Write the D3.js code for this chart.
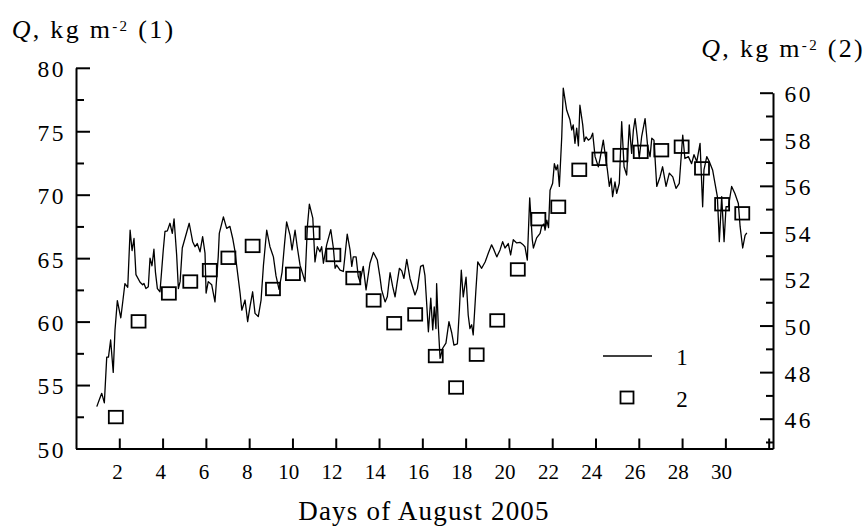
<!DOCTYPE html>
<html>
<head>
<meta charset="utf-8">
<script src="https://cdn.jsdelivr.net/npm/d3@7"></script>
<style>
  html, body { margin: 0; padding: 0; background: #fff; }
  svg { display: block; font-family: "Liberation Serif", "Times New Roman", serif; }
</style>
</head>
<body>
<svg id="chart" width="868" height="526"></svg>
<script>
// Series 1: continuous record (left axis), day of August vs Q
const lineDays = [
  0.96, 1.11, 1.19, 1.31, 1.42, 1.50, 1.60, 1.72, 1.80, 1.91, 2.07, 2.17, 2.26, 2.39, 2.50, 2.59, 2.68, 2.77,
  2.96, 3.08, 3.14, 3.23, 3.34, 3.42, 3.51, 3.60, 3.67, 3.76, 3.88, 4.03, 4.11, 4.22, 4.34, 4.45, 4.53, 4.65,
  4.73, 4.81, 4.91, 5.23, 5.39, 5.50, 5.60, 5.73, 5.85, 5.96, 6.01, 6.11, 6.27, 6.42, 6.57, 6.62, 6.81, 6.96,
  7.11, 7.24, 7.35, 7.39, 7.58, 7.66, 7.81, 7.93, 8.04, 8.16, 8.27, 8.42, 8.55, 8.66, 8.81, 8.96, 9.12, 9.24,
  9.38, 9.52, 9.63, 9.73, 9.89, 9.98, 10.12, 10.22, 10.35, 10.58, 10.69, 10.78, 10.94, 11.04, 11.15, 11.27,
  11.35, 11.43, 11.58, 11.77, 11.89, 11.97, 12.04, 12.20, 12.35, 12.53, 12.66, 12.74, 12.81, 12.94, 13.04,
  13.12, 13.27, 13.40, 13.58, 13.74, 13.92, 14.04, 14.12, 14.28, 14.38, 14.51, 14.63, 14.74, 14.82, 14.94,
  15.05, 15.15, 15.28, 15.43, 15.66, 15.77, 15.92, 16.04, 16.12, 16.20, 16.28, 16.39, 16.48, 16.55, 16.63,
  16.66, 16.74, 16.82, 16.94, 17.09, 17.23, 17.36, 17.46, 17.62, 17.71, 17.80, 17.89, 18.02, 18.12, 18.20,
  18.28, 18.35, 18.47, 18.56, 18.74, 18.90, 19.05, 19.20, 19.31, 19.44, 19.59, 19.71, 19.82, 19.97, 20.08,
  20.20, 20.36, 20.51, 20.66, 20.74, 20.85, 20.96, 21.08, 21.13, 21.28, 21.44, 21.51, 21.62, 21.67, 21.75,
  21.83, 21.90, 22.02, 22.10, 22.18, 22.25, 22.33, 22.44, 22.51, 22.67, 22.82, 22.90, 22.97, 23.05, 23.13,
  23.21, 23.28, 23.41, 23.48, 23.56, 23.67, 23.78, 23.87, 23.98, 24.13, 24.21, 24.36, 24.44, 24.55, 24.64,
  24.72, 24.79, 24.90, 24.98, 25.10, 25.21, 25.32, 25.44, 25.56, 25.67, 25.75, 25.83, 25.93, 26.02, 26.13,
  26.29, 26.41, 26.52, 26.60, 26.70, 26.83, 26.98, 27.10, 27.26, 27.41, 27.57, 27.72, 27.87, 28.03, 28.13,
  28.29, 28.44, 28.55, 28.68, 28.83, 28.95, 29.01, 29.14, 29.26, 29.41, 29.52, 29.63, 29.72, 29.83, 29.94,
  30.03, 30.14, 30.29, 30.44, 30.60, 30.68, 30.80, 30.91, 30.99
];
const lineValues = [
  53.3, 54.0, 54.35, 53.6, 57.2, 57.2, 58.55, 56.0, 59.3, 61.65, 60.3, 61.7, 63.0, 62.7, 67.2, 65.6, 66.55, 63.7,
  63.1, 62.9, 63.0, 62.6, 62.75, 65.0, 64.4, 65.7, 63.9, 62.6, 62.35, 65.6, 67.1, 67.15, 67.75, 66.95, 68.1, 65.25,
  62.6, 63.15, 65.8, 67.75, 66.3, 65.9, 66.15, 65.5, 66.7, 65.4, 62.25, 63.15, 62.9, 61.55, 65.1, 66.95, 68.25, 67.35,
  67.5, 66.55, 65.5, 64.85, 62.25, 60.9, 61.7, 60.0, 61.2, 62.35, 60.65, 60.4, 61.7, 64.45, 67.2, 65.9, 65.1, 63.6,
  62.55, 63.9, 66.05, 67.85, 66.8, 65.65, 67.2, 65.9, 64.45, 63.15, 67.5, 69.25, 68.15, 64.7, 65.9, 65.5,
  65.9, 64.6, 66.05, 67.25, 65.8, 64.2, 64.45, 64.05, 63.95, 66.9, 65.65, 64.35, 65.1, 65.1, 63.55,
  63.15, 64.35, 62.5, 64.6, 65.45, 64.85, 63.55, 62.5, 61.55, 61.95, 63.85, 62.75, 61.95, 62.9, 64.2,
  64.0, 63.4, 64.9, 63.4, 62.1, 62.6, 64.35, 64.45, 63.65, 61.45, 59.2, 61.85, 59.35, 61.15, 59.45,
  63.0, 59.6, 57.1, 57.9, 58.3, 60.0, 59.1, 58.15, 58.25, 60.9, 64.05, 61.95, 63.5, 60.5, 59.45,
  59.75, 58.95, 62.35, 64.7, 64.2, 64.7, 65.4, 66.05, 65.65, 65.1, 65.65, 66.3, 65.8, 66.15, 65.25,
  66.45, 66.2, 66.25, 66.05, 65.9, 64.85, 69.75, 66.45, 65.8, 66.6, 66.95, 67.5, 67.7, 67.2, 68.0,
  67.4, 70.35, 70.9, 72.45, 71.95, 72.35, 70.65, 74.55, 78.4, 76.65, 75.9, 75.1, 75.5, 74.05, 75.25,
  73.85, 77.05, 75.5, 74.2, 74.55, 74.3, 74.45, 74.85, 73.0, 72.2, 72.85, 74.3, 73.25, 71.95, 70.65,
  71.3, 69.85, 71.0, 70.1, 70.9, 75.75, 72.2, 71.55, 75.5, 73.25, 75.1, 76.0, 74.55, 72.85, 74.55,
  76.0, 73.8, 73.0, 74.45, 74.3, 70.65, 71.4, 72.2, 70.65, 71.7, 71.4, 70.5, 70.9, 74.7, 72.85,
  73.0, 72.45, 73.15, 72.6, 74.05, 69.05, 71.95, 73.0, 72.6, 71.95, 70.9, 69.85, 66.3, 69.85, 66.3,
  69.05, 69.05, 70.65, 70.1, 69.3, 67.5, 65.8, 66.8, 67.0
];

// Series 2: discrete values (right axis)
const squareDays = [
  1.84, 2.89, 4.29, 5.28, 6.18, 7.04, 8.16, 9.10, 10.02, 10.93, 11.89, 12.81, 13.75, 14.70, 15.67, 16.62,
  17.56, 18.51, 19.46, 20.41, 21.36, 22.28, 23.25, 24.18, 25.15, 26.09, 27.04, 27.98, 28.92, 29.85, 30.78
];
const squareValues = [
  46.07, 50.18, 51.38, 51.89, 52.38, 52.91, 53.42, 51.57, 52.22, 53.98, 53.03, 52.04, 51.08, 50.10, 50.48, 48.69,
  47.34, 48.75, 50.22, 52.41, 54.57, 55.10, 56.69, 57.16, 57.32, 57.46, 57.53, 57.68, 56.75, 55.21, 54.82
];

// Tick values
const xTicks = [2, 4, 6, 8, 10, 12, 14, 16, 18, 20, 22, 24, 26, 28, 30, 32];
const leftTicks = [50, 55, 60, 65, 70, 75, 80];
const leftMinorTicks = [52.5, 57.5, 62.5, 67.5, 72.5, 77.5];
const rightTicks = [46, 48, 50, 52, 54, 56, 58, 60];
const rightMinorTicks = [45, 47, 49, 51, 53, 55, 57, 59];

const svg = d3.select("#chart");
const FONT = "Liberation Serif, Times New Roman, serif";

const x = d3.scaleLinear().domain([0, 32.2]).range([76, 773]);
const yL = d3.scaleLinear().domain([50, 80]).range([448.5, 67.8]);
const yR = d3.scaleLinear().domain([44.72, 60]).range([448.5, 92.7]);

function styleAxis(g, size, spacing) {
  g.attr("font-family", FONT).attr("font-size", size);
  g.selectAll("path.domain").attr("stroke", "#000").attr("stroke-width", 2);
  g.selectAll(".tick line").attr("stroke", "#000").attr("stroke-width", 2);
  g.selectAll(".tick text").attr("fill", "#000").attr("letter-spacing", spacing);
}

// Bottom axis
const gx = svg.append("g")
  .attr("transform", "translate(0,448.5)")
  .call(d3.axisBottom(x).tickValues(xTicks)
    .tickFormat(d => d === 32 ? "" : d)
    .tickSize(-10).tickSizeOuter(0).tickPadding(15.6));
styleAxis(gx, 21, 0);
gx.selectAll(".tick text").attr("dx", function(d) { return -(0.5 + 1.9 * String(d).length); });

// Left axis
const gl = svg.append("g")
  .attr("transform", "translate(76,0)")
  .call(d3.axisLeft(yL).tickValues(leftTicks).tickSize(-14).tickSizeOuter(0).tickPadding(10));
styleAxis(gl, 23.5, 2.5);
gl.selectAll(".tick text").attr("dy", "0.38em");
const glm = svg.append("g")
  .attr("transform", "translate(76,0)")
  .call(d3.axisLeft(yL).tickValues(leftMinorTicks).tickSize(-8).tickFormat(""));
glm.select("path.domain").remove();
styleAxis(glm, 22, 0);

// Right axis
const gr = svg.append("g")
  .attr("transform", "translate(773,0)")
  .call(d3.axisRight(yR).tickValues(rightTicks).tickSize(-13).tickSizeOuter(0).tickPadding(11.5));
styleAxis(gr, 23.5, 2.5);
gr.selectAll(".tick text").attr("dy", "0.38em");
const grm = svg.append("g")
  .attr("transform", "translate(773,0)")
  .call(d3.axisRight(yR).tickValues(rightMinorTicks).tickSize(-7).tickFormat(""));
grm.select("path.domain").remove();
styleAxis(grm, 22, 0);

// Series 1 line
const linePts = lineDays.map((d, i) => [d, lineValues[i]]);
svg.append("path")
  .datum(linePts)
  .attr("fill", "none")
  .attr("stroke", "#000")
  .attr("stroke-width", 1.3)
  .attr("stroke-linejoin", "round")
  .attr("d", d3.line().x(d => x(d[0])).y(d => yL(d[1])));

// Series 2 squares
const sqW = 14, sqH = 12.5;
svg.append("g").selectAll("rect")
  .data(squareDays.map((d, i) => [d, squareValues[i]]))
  .join("rect")
  .attr("x", d => x(d[0]) - sqW / 2)
  .attr("y", d => yR(d[1]) - sqH / 2)
  .attr("width", sqW)
  .attr("height", sqH)
  .attr("fill", "none")
  .attr("stroke", "#000")
  .attr("stroke-width", 1.8);

// Legend
const legend = svg.append("g").attr("font-family", FONT).attr("font-size", 23);
legend.append("line").attr("x1", 603).attr("x2", 652).attr("y1", 356).attr("y2", 356)
  .attr("stroke", "#000").attr("stroke-width", 1.3);
legend.append("text").attr("x", 682).attr("y", 365).attr("text-anchor", "middle").text("1");
legend.append("rect").attr("x", 620.5).attr("y", 391.5).attr("width", 13).attr("height", 12)
  .attr("fill", "none").attr("stroke", "#000").attr("stroke-width", 1.8);
legend.append("text").attr("x", 682).attr("y", 407).attr("text-anchor", "middle").text("2");

// Axis titles
function qTitle(xPos, yPos, anchor, tag) {
  const t = svg.append("text")
    .attr("x", xPos).attr("y", yPos)
    .attr("text-anchor", anchor)
    .attr("font-family", FONT)
    .attr("font-size", 26)
    .attr("letter-spacing", 2.3)
    .attr("fill", "#000");
  t.append("tspan").attr("font-style", "italic").text("Q");
  t.append("tspan").text(", kg m");
  t.append("tspan").attr("font-size", 15).attr("dy", -6.6).text("-2");
  t.append("tspan").attr("dy", 6.6).text(" (" + tag + ")");
}
qTitle(11.7, 38, "start", "1");
qTitle(865, 56.5, "end", "2");

svg.append("text")
  .attr("x", 424).attr("y", 520)
  .attr("text-anchor", "middle")
  .attr("font-family", FONT)
  .attr("font-size", 27)
  .attr("letter-spacing", 1.2)
  .attr("fill", "#000")
  .text("Days of August 2005");
</script>
</body>
</html>
